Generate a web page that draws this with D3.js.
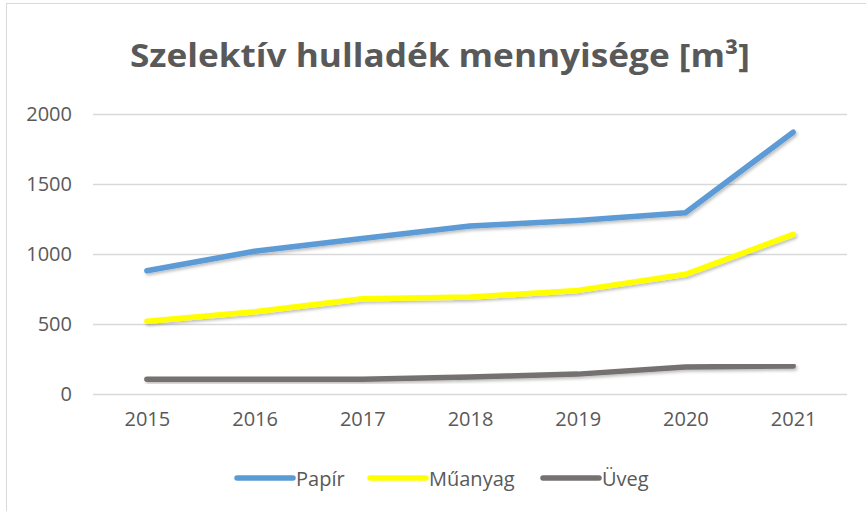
<!DOCTYPE html>
<html>
<head>
<meta charset="utf-8">
<script src="https://d3js.org/d3.v7.min.js"></script>
<style>
  body { margin: 0; background: #fff; }
  svg text { font-family: "Open Sans", sans-serif; fill: #595959; }
</style>
</head>
<body>
<div class="line-chart"></div>
<script>
// ---- data
const years = ["2015", "2016", "2017", "2018", "2019", "2020", "2021"];
const papir = [880, 1020, 1110, 1200, 1240, 1295, 1870];
const muanyag = [520, 588, 680, 693, 740, 855, 1140];
const uveg = [105, 105, 105, 122, 142, 193, 200];
const yTicks = [0, 500, 1000, 1500, 2000];
const seriesNames = ["Papír", "Műanyag", "Üveg"];
const seriesColors = ["#5B9BD5", "#FFFF00", "#767171"];

const series = [papir, muanyag, uveg].map(function(vals, i) {
  return { name: seriesNames[i], color: seriesColors[i],
           values: vals.map(function(v, j) { return [years[j], v]; }) };
});

var width = 866, height = 511;

var svg = d3.select(".line-chart")
  .append("svg")
    .attr("width", width)
    .attr("height", height);

// soft shadow under the lines
var defs = svg.append("defs");
defs.append("filter")
    .attr("id", "shadow")
    .attr("x", "-10%").attr("y", "-10%")
    .attr("width", "120%").attr("height", "140%")
  .append("feDropShadow")
    .attr("dx", 1.5).attr("dy", 2)
    .attr("stdDeviation", 1.5)
    .attr("flood-color", "#000")
    .attr("flood-opacity", 0.25);

// chart border
svg.append("rect")
    .attr("x", 6.5).attr("y", 3.5)
    .attr("width", 880).attr("height", 530)
    .attr("fill", "none")
    .attr("stroke", "#D9D9D9");

// ---- title
var title = svg.append("text")
    .attr("x", 440)
    .attr("y", 67)
    .attr("text-anchor", "middle")
    .style("font-size", "33px")
    .style("font-weight", "bold")
    .text("Szelektív hulladék mennyisége [m³]");
title.attr("textLength", 620).attr("lengthAdjust", "spacingAndGlyphs");

// ---- scales
var x = d3.scalePoint()
    .domain(years)
    .range([93, 847])
    .padding(0.5);

var y = d3.scaleLinear()
    .domain([0, 2000])
    .range([394, 114]);

// ---- gridlines + y labels
var yAxis = svg.append("g")
    .attr("transform", "translate(93,0)")
    .call(d3.axisLeft(y).tickValues(yTicks).tickSize(-754).tickPadding(21).tickFormat(d3.format("d")));
yAxis.select(".domain").remove();
yAxis.selectAll("line").attr("stroke", "#D9D9D9").attr("stroke-width", 1.5);
yAxis.selectAll("text")
    .style("font-size", "20px")
    .style("font-family", "'Open Sans', sans-serif")
    .attr("fill", "#595959");

// ---- x labels
var xAxis = svg.append("g")
    .attr("transform", "translate(0,394)")
    .call(d3.axisBottom(x).tickSize(0).tickPadding(18));
xAxis.select(".domain").remove();
xAxis.selectAll("text")
    .style("font-size", "20px")
    .style("font-family", "'Open Sans', sans-serif")
    .attr("fill", "#595959");

// ---- lines
var line = d3.line()
    .x(function(d) { return x(d[0]); })
    .y(function(d) { return y(d[1]); });

svg.selectAll(".series")
  .data(series)
  .enter()
    .append("path")
    .attr("class", "series")
    .attr("d", function(d) { return line(d.values); })
    .attr("fill", "none")
    .attr("stroke", function(d) { return d.color; })
    .attr("stroke-width", 5.5)
    .attr("stroke-linecap", "round")
    .attr("stroke-linejoin", "round")
    .attr("filter", "url(#shadow)");

// ---- legend
var legendX = [237, 370, 543];
var legend = svg.selectAll(".legend")
  .data(series)
  .enter()
    .append("g")
    .attr("class", "legend")
    .attr("transform", function(d, i) { return "translate(" + legendX[i] + ",478)"; });
legend.append("line")
    .attr("x1", 0).attr("x2", 56)
    .attr("stroke", function(d) { return d.color; })
    .attr("stroke-width", 5.5)
    .attr("stroke-linecap", "round");
legend.append("text")
    .attr("x", 59)
    .attr("y", 8)
    .style("font-size", "20px")
    .text(function(d) { return d.name; });
</script>
</body>
</html>
